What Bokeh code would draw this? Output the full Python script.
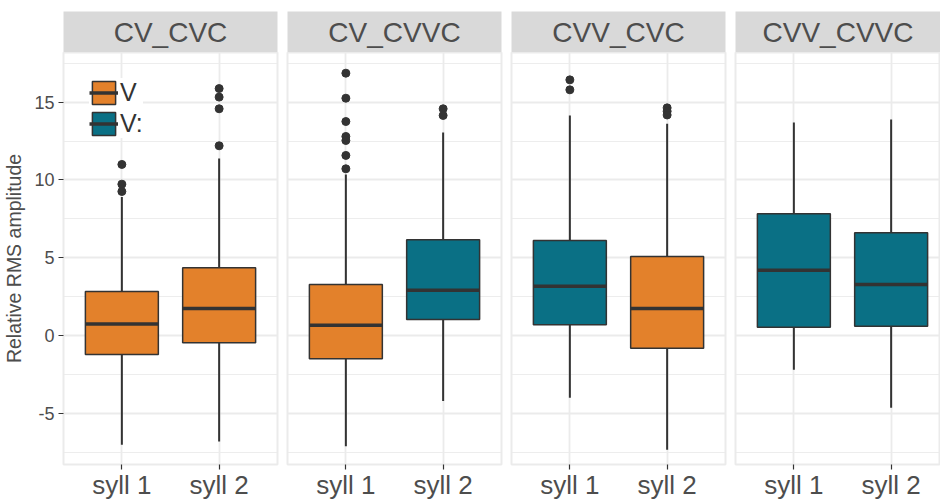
import math
from bokeh.plotting import figure
from bokeh.models import ColumnDataSource, Range1d, FixedTicker, Legend, LegendItem
from bokeh.layouts import row, column
from bokeh.core.properties import value
from bokeh.embed import file_html
from bokeh.resources import INLINE

# ---------------- data ----------------
facets = ["CV_CVC", "CV_CVVC", "CVV_CVC", "CVV_CVVC"]
sylls = ["syll 1", "syll 2"]
vowel = [["V", "V"], ["V", "V:"], ["V:", "V"], ["V:", "V:"]]
q1 = [[-1.22, -0.47], [-1.50, 1.03], [0.69, -0.82], [0.53, 0.60]]
med = [[0.73, 1.74], [0.66, 2.91], [3.17, 1.74], [4.20, 3.28]]
q3 = [[2.83, 4.35], [3.28, 6.15], [6.11, 5.08], [7.83, 6.60]]
wlo = [[-7.03, -6.82], [-7.12, -4.22], [-4.00, -7.35], [-2.21, -4.65]]
whi = [[8.90, 11.38], [10.35, 13.05], [14.15, 13.61], [13.70, 13.89]]
outliers = [
    [[11.0, 9.73, 9.26], [15.88, 15.33, 14.58, 12.2]],
    [[16.87, 15.26, 13.76, 12.8, 12.54, 11.58, 10.72], [14.58, 14.15]],
    [[16.44, 15.8], [14.64, 14.42, 14.18]],
    [[], []],
]
y_ticks = [-5, 0, 5, 10, 15]
y_minor = [-7.5, -2.5, 2.5, 7.5, 12.5, 17.5]
y_label = "Relative RMS amplitude"
vowel_levels = ["V", "V:"]

colors = {"V": "#E3812B", "V:": "#0A7085"}
FONT = "Liberation Sans"
TXT = "#4D4D4D"
DARK = "#333333"
GRID = "#EBEBEB"
BOX_W = 0.75

FRAME_W = 214
cols = []
for i, facet in enumerate(facets):
    last = i == len(facets) - 1
    left = 63 if i == 0 else 5
    right = 0 if last else 5
    fw = 205 if last else FRAME_W
    xr_end = 0.4 + 2.2 * fw / FRAME_W
    W = left + fw + right

    # strip
    s = figure(width=W, height=52, x_range=Range1d(0, 1), y_range=Range1d(0, 1),
               output_backend="svg", toolbar_location=None,
               min_border_left=left, min_border_right=right, min_border_top=11,
               min_border_bottom=0)
    s.axis.visible = False
    s.grid.visible = False
    s.background_fill_color = "#D9D9D9"
    s.outline_line_color = None
    s.text(x=[0.5], y=[0.5], text=[facet], text_align="center", text_baseline="middle",
           text_font=value(FONT), text_font_size="28px", text_color=TXT)

    # panel
    p = figure(width=W, height=450, x_range=Range1d(0.4, xr_end), y_range=Range1d(-8.3, 18.2),
               output_backend="svg", toolbar_location=None,
               min_border_left=left, min_border_right=right, min_border_top=0,
               min_border_bottom=34)
    p.background_fill_color = "white"
    p.outline_line_color = GRID
    p.outline_line_width = 2

    xs = [j + 1 for j in range(len(sylls))]
    p.xaxis.ticker = FixedTicker(ticks=xs)
    p.xaxis.major_label_overrides = {x: lab for x, lab in zip(xs, sylls)}
    p.xaxis.major_label_text_font = FONT
    p.xaxis.major_label_text_font_size = "26px"
    p.xaxis.major_label_text_color = TXT
    p.xaxis.major_label_standoff = 0
    p.xaxis.axis_line_color = None
    p.xaxis.major_tick_line_color = DARK
    p.xaxis.major_tick_line_width = 1.2
    p.xaxis.major_tick_out = 5
    p.xaxis.major_tick_in = 0
    p.xaxis.minor_tick_line_color = None

    p.yaxis.ticker = FixedTicker(ticks=y_ticks, minor_ticks=y_minor)
    if i == 0:
        p.yaxis.major_label_overrides = {t: str(t) for t in y_ticks}
        p.yaxis.major_label_text_font = FONT
        p.yaxis.major_label_text_font_size = "18px"
        p.yaxis.major_label_text_color = TXT
        p.yaxis.major_label_standoff = 4
        p.yaxis.axis_line_color = None
        p.yaxis.major_tick_line_color = DARK
        p.yaxis.major_tick_line_width = 1.2
        p.yaxis.major_tick_out = 5
        p.yaxis.major_tick_in = 0
        p.yaxis.minor_tick_line_color = None
        p.yaxis.axis_label = y_label
        p.yaxis.axis_label_text_font = FONT
        p.yaxis.axis_label_text_font_size = "19.5px"
        p.yaxis.axis_label_text_font_style = "normal"
        p.yaxis.axis_label_text_color = TXT
        p.yaxis.axis_label_standoff = 6
    else:
        p.yaxis.visible = False

    p.ygrid.ticker = FixedTicker(ticks=y_ticks, minor_ticks=y_minor)
    p.ygrid.grid_line_color = GRID
    p.ygrid.grid_line_width = 1.8
    p.ygrid.minor_grid_line_color = GRID
    p.ygrid.minor_grid_line_width = 0.9
    p.xgrid.ticker = FixedTicker(ticks=xs)
    p.xgrid.grid_line_color = GRID
    p.xgrid.grid_line_width = 1.8

    rends = {}
    for v in vowel_levels:
        idx = [j for j in range(len(sylls)) if vowel[i][j] == v]
        data = dict(
            x=[xs[j] for j in idx],
            x0=[xs[j] - BOX_W / 2 for j in idx],
            x1=[xs[j] + BOX_W / 2 for j in idx],
            q1=[q1[i][j] for j in idx],
            med=[med[i][j] for j in idx],
            q3=[q3[i][j] for j in idx],
            lo=[wlo[i][j] for j in idx],
            hi=[whi[i][j] for j in idx],
        )
        if not idx:  # keep a (non-drawn) row so the legend key can still be drawn
            data = {k: [math.nan] for k in data}
        src = ColumnDataSource(data)
        p.segment(x0="x", y0="q3", x1="x", y1="hi", source=src, line_color=DARK, line_width=2)
        p.segment(x0="x", y0="q1", x1="x", y1="lo", source=src, line_color=DARK, line_width=2)
        b = p.vbar(x="x", width=BOX_W, top="q3", bottom="q1", source=src,
                   fill_color=colors[v], line_color=DARK, line_width=1.5)
        m = p.segment(x0="x0", y0="med", x1="x1", y1="med", source=src,
                      line_color=DARK, line_width=3.5)
        rends[v] = [b, m]

    ox, oy = [], []
    for j in range(len(sylls)):
        for val in outliers[i][j]:
            ox.append(xs[j])
            oy.append(val)
    p.scatter(x=ox, y=oy, size=8, color=DARK)

    if i == 0:
        legend = Legend(items=[LegendItem(label=v, renderers=rends[v], index=0)
                               for v in vowel_levels],
                        location="top_left", margin=26, padding=11, spacing=2,
                        glyph_width=29, glyph_height=29, label_standoff=2,
                        label_text_font=FONT, label_text_font_size="25px",
                        label_text_color=DARK, background_fill_color="white",
                        background_fill_alpha=1.0, border_line_color=None)
        p.add_layout(legend)

    cols.append(column(s, p, spacing=0))

layout = row(*cols, spacing=0)
open("out.html", "w").write(file_html(layout, INLINE))
